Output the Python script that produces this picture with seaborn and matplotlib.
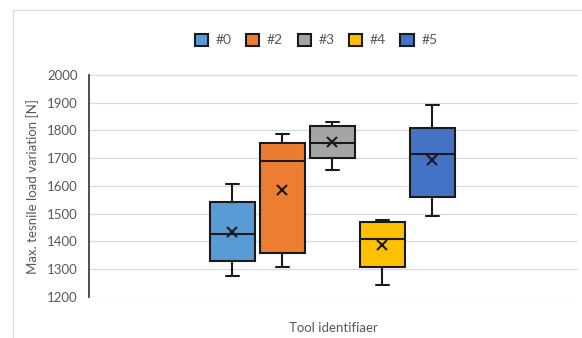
import matplotlib
matplotlib.use("Agg")
import matplotlib.pyplot as plt
from matplotlib.patches import Rectangle
import pandas as pd
import seaborn as sns

# Five-number summary per tool (lower whisker, Q1, median, Q3, upper whisker) and mean
tools = ["#0", "#2", "#3", "#4", "#5"]
whisker_low = [1276, 1309, 1658, 1243, 1493]
q1 = [1331, 1359, 1702, 1309, 1559]
median = [1426, 1691, 1756, 1408, 1714]
q3 = [1543, 1755, 1817, 1470, 1810]
whisker_high = [1608, 1786, 1830, 1476, 1892]
means = [1435, 1585, 1758, 1387, 1694]

colors = ["#5B9BD5", "#ED7D31", "#A5A5A5", "#FFC000", "#4472C4"]
y_ticks = [1200, 1300, 1400, 1500, 1600, 1700, 1800, 1900, 2000]

# Long table: five points per tool reproduce the summary exactly with whis=(0, 100)
rows = []
for i, t in enumerate(tools):
    for v in (whisker_low[i], q1[i], median[i], q3[i], whisker_high[i]):
        rows.append({"tool": t, "load": v})
df = pd.DataFrame(rows)
mean_df = pd.DataFrame({"tool": tools, "mean": means})

sns.set_theme(style="white")
plt.rcParams["font.family"] = ["Lato", "DejaVu Sans"]
text_color = "#595959"
edge = "#1a1a1a"

fig = plt.figure(figsize=(5.82, 3.38), dpi=100)
ax = fig.add_axes([89 / 582, 1 - 297 / 338, (578 - 89) / 582, (297 - 75) / 338])

sns.boxplot(
    data=df, x="tool", y="load", hue="tool", order=tools, hue_order=tools,
    palette=colors, saturation=1, whis=(0, 100), width=0.9, dodge=False,
    linewidth=1.5, linecolor=edge, capwidths=0.26, legend=True, ax=ax,
    zorder=3,
)
sns.pointplot(
    data=mean_df, x="tool", y="mean", order=tools, color=edge,
    marker="x", linestyle="none", errorbar=None, markersize=7.5,
    markeredgewidth=1.5, ax=ax, zorder=5,
)

# Axes, grid and spines
ax.set_ylim(1200, 2000)
ax.set_yticks(y_ticks)
ax.set_xlim(-2.86, 6.92)
ax.set_xticks([])
ax.yaxis.grid(True, color="#d9d9d9", linewidth=0.9)
ax.set_axisbelow(True)
for side in ("top", "right", "bottom"):
    ax.spines[side].set_visible(False)
ax.spines["left"].set_color("#404040")
ax.spines["left"].set_linewidth(1.3)
ax.tick_params(axis="y", length=0, pad=8, labelsize=9.5, labelcolor=text_color)
ax.set_ylabel("Max. tesnile load variation [N]", fontsize=9.5, color=text_color, labelpad=6)
ax.set_xlabel("Tool identifiaer", fontsize=9.5, color=text_color, labelpad=18)

# Legend across the top
sns.move_legend(
    ax, "center", bbox_to_anchor=((316 - 89) / 489, (297 - 40) / 222),
    ncol=5, frameon=False, title=None, fontsize=10,
    handlelength=0.95, handleheight=0.95, handletextpad=0.55, columnspacing=1.05,
    labelcolor=text_color,
)

# Light chart-area border
fig.patches.append(Rectangle((12.5 / 582, -0.1), 1.2, 1.1 - 10 / 338,
                             transform=fig.transFigure, fill=False,
                             edgecolor="#d9d9d9", linewidth=0.9))

fig.savefig("out.png", dpi=100)
